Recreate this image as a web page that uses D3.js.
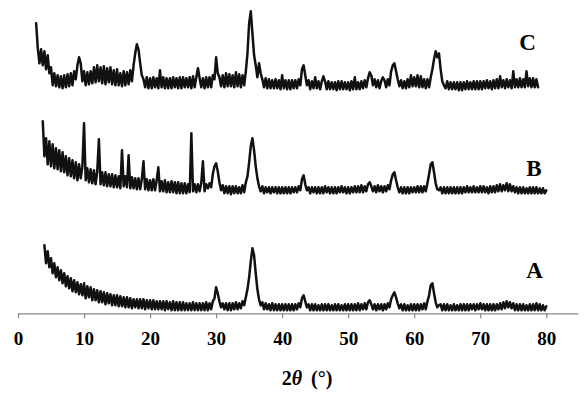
<!DOCTYPE html>
<html><head><meta charset="utf-8">
<script src="https://cdn.jsdelivr.net/npm/d3@7"></script>
<style>html,body{margin:0;padding:0;background:#fff}svg{display:block}</style>
</head><body>
<svg id="chart" width="588" height="398"></svg>
<script>
// ---- data (2θ sampled every 0.25°, intensity in arbitrary units) ----
const seriesNames = ["A", "B", "C"];
const seriesStart = [4.0, 3.75, 2.75];
const seriesStep = 0.25;
const seriesOffset = [0, 117, 220];
const tickValues = [0, 10, 20, 30, 40, 50, 60, 70, 80];
const axisTitle = ["2", "θ", "(°)"];

const yA = [
68,50,62,46, 55,40,50,36, 46,33,43,30, 40,27,37,25, 35,22,33,21, 31,19,29,18,
30,15,27,16, 26,13,24,13, 23,11,22,11, 21,9,20,10, 19,8,18,8, 18,7,17,7,
16,6,16,6, 15,5,14,6, 14,5,14,5, 14,4,13,5, 13,4,13,4, 12,4,12,4,
12,3,12,4, 11,3,12,3, 11,3,11,3, 11,3,10,3, 10,3,11,3, 10,3,10,3,
10,3,11,3, 10,4,12,15, 26,20,12,6, 10,4,10,3, 10,3,10,4, 11,4,10,5,
12,8,16,24, 36,52,65,58, 40,24,14,8, 11,4,10,4, 9,3,10,3, 9,3,9,3,
9,3,9,3, 9,3,9,3, 9,4,10,6, 15,18,12,6, 9,3,9,3, 9,3,8,3,
9,3,9,3, 9,3,8,3, 9,3,9,3, 8,3,9,3, 9,3,9,3, 9,3,10,3,
9,4,10,4, 11,13,9,4, 9,3,9,4, 9,3,9,4, 10,6,14,18, 21,16,10,5,
9,3,9,3, 8,3,9,3, 9,3,9,3, 9,4,10,4, 12,18,28,30, 20,11,6,8,
9,3,9,3, 9,3,8,3, 9,3,8,3, 9,3,9,3, 9,3,9,4, 9,3,9,4,
10,4,9,3, 9,3,9,3, 9,3,9,4, 10,4,11,5, 12,6,11,5, 10,3,9,3,
9,3,9,3, 8,3,9,3, 9,3,10,3, 9,3,8,3, 7
];

const yB = [
75,
40,58,32,55, 30,52,28,48, 27,46,25,44, 24,40,21,38, 20,36,18,34, 16,32,18,30,
73,16,28,14, 27,13,26,12, 25,57,12,24, 11,24,10,22, 10,22,9,21, 9,20,8,46,
10,20,9,41, 8,19,8,18, 7,18,7,17, 35,7,17,6, 16,6,17,6, 16,29,5,15,
5,16,4,14, 4,15,4,14, 3,14,3,13, 3,13,3,12, 4,63,5,12, 4,12,5,13,
35,5,12,8, 13,9,22,30, 33,25,14,6, 11,3,10,3, 10,2,10,3, 10,3,9,3,
11,4,14,20, 34,50,58,46, 30,18,10,5, 10,3,9,4, 9,3,9,4, 9,3,9,3,
9,3,9,3, 9,3,9,4, 9,4,10,6, 17,21,12,6, 9,3,9,4, 9,3,9,3,
9,3,10,4, 9,3,9,3, 9,3,9,4, 10,4,9,3, 9,3,9,4, 10,4,10,4,
11,4,10,5, 12,14,10,5, 10,4,11,5, 10,4,10,5, 11,7,16,22, 24,16,9,4,
9,3,9,3, 9,3,9,4, 9,4,10,4, 10,4,10,5, 13,22,32,34, 24,13,7,6,
9,3,9,3, 9,3,9,3, 9,3,9,3, 9,3,9,4, 10,4,9,4, 10,4,9,4,
10,4,10,4, 9,3,10,4, 10,4,11,5, 12,5,11,6, 13,5,12,5, 10,4,9,3,
9,3,9,3, 8,3,9,3, 9,3,9,3, 8,3,8,3, 6
];

const yC = [
70,
45,30,44,28, 42,24,38,20, 26,8,20,7, 18,6,17,5, 18,6,19,7, 20,8,22,14,
28,36,30,12, 22,8,21,9, 22,10,26,11, 28,12,26,10, 27,9,25,11, 26,9,23,8,
24,8,20,7, 22,8,21,9, 23,12,28,40, 49,44,30,18, 14,6,16,5, 15,5,16,6,
15,5,23,6, 16,5,15,5, 15,5,16,6, 15,5,16,5, 16,6,15,6, 16,5,17,6,
16,25,15,6, 15,5,16,6, 16,6,18,14, 36,20,16,7, 18,6,20,7, 19,7,18,6,
21,7,19,6, 18,8,22,40, 70,82,60,38, 28,16,30,20, 14,6,15,5, 14,5,13,5,
14,5,13,4, 18,5,13,4, 13,4,13,5, 13,5,14,8, 24,28,18,8, 13,4,12,5,
16,5,12,4, 12,17,12,4, 12,4,11,4, 11,3,12,4, 12,4,11,4, 11,3,12,4,
16,4,11,4, 12,5,13,6, 15,21,18,8, 14,6,13,5, 12,16,13,6, 14,8,22,28,
30,22,14,7, 13,5,12,5, 14,6,18,7, 16,7,18,6, 17,6,14,5, 14,6,16,24,
34,42,36,40, 24,12,8,5, 12,4,11,4, 11,4,11,3, 11,3,11,4, 12,4,11,4,
12,4,12,4, 12,4,12,5, 13,5,12,4, 13,5,14,5, 17,6,13,5, 14,6,13,5,
22,6,14,6, 15,6,14,6, 22,7,15,6, 15,6,14,6
];

const seriesValues = [yA, yB, yC];

// ---- layout ----
const svg = d3.select("#chart");
const axisY = 313.3;

const x = d3.scaleLinear().domain([0, 84.8]).range([18, 578]);
const y = d3.scaleLinear().domain([0, 313]).range([axisY, axisY - 313]);

// traces
const line = d3.line()
  .x(d => x(d.t))
  .y(d => y(d.v));

seriesValues.forEach((vals, k) => {
  const pts = vals.map((v, i) => ({ t: seriesStart[k] + i * seriesStep, v: v + seriesOffset[k] }));
  svg.append("path")
    .datum(pts)
    .attr("fill", "none")
    .attr("stroke", "#111")
    .attr("stroke-width", 2.5)
    .attr("stroke-linejoin", "round")
    .attr("stroke-linecap", "round")
    .attr("d", line);
});

// axis
const axis = d3.axisBottom(x)
  .tickValues(tickValues)
  .tickFormat(d3.format("d"))
  .tickSize(5)
  .tickSizeOuter(0)
  .tickPadding(13);

const gAxis = svg.append("g")
  .attr("transform", `translate(0,${axisY})`)
  .style("font-family", "'Liberation Serif', 'Times New Roman', serif")
  .call(axis);
gAxis.attr("font-family", "'Liberation Serif', 'Times New Roman', serif");
gAxis.select(".domain").attr("stroke", "#8a8a8a").attr("stroke-width", 1.2);
gAxis.selectAll(".tick line").attr("stroke", "#8a8a8a").attr("stroke-width", 1.2);
gAxis.selectAll(".tick text")
  .attr("fill", "#000")
  .style("font-family", "'Liberation Serif', 'Times New Roman', serif")
  .style("font-weight", "bold")
  .style("font-size", "19px");

// axis title
const title = svg.append("text")
  .attr("x", 307)
  .attr("y", 384.5)
  .attr("text-anchor", "middle")
  .style("font-family", "'Liberation Serif', 'Times New Roman', serif")
  .style("font-weight", "bold")
  .style("font-size", "20px")
  .attr("fill", "#000");
title.append("tspan").text(axisTitle[0]);
title.append("tspan").style("font-style", "italic").text(axisTitle[1]);
title.append("tspan").attr("dx", 9).text(axisTitle[2]);

// series labels
const labelPos = [[534.5, 278], [534, 176], [527.5, 50]];
seriesNames.forEach((name, k) => {
  svg.append("text")
    .attr("x", labelPos[k][0])
    .attr("y", labelPos[k][1])
    .attr("text-anchor", "middle")
    .style("font-family", "'Liberation Serif', 'Times New Roman', serif")
    .style("font-weight", "bold")
    .style("font-size", "23px")
    .attr("fill", "#000")
    .text(name);
});
</script>
</body></html>
